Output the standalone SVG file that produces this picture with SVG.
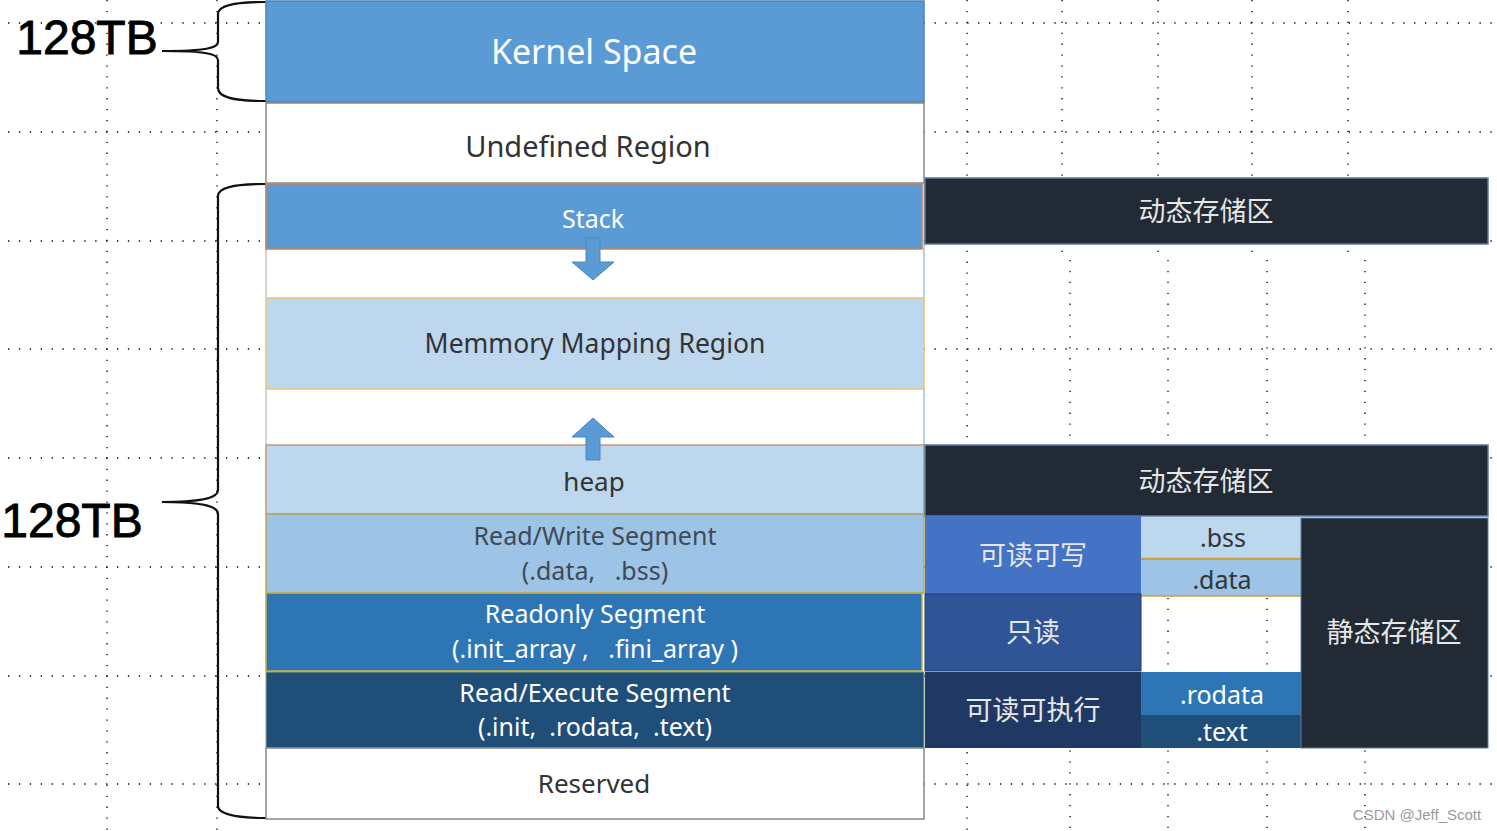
<svg xmlns="http://www.w3.org/2000/svg" width="1497" height="831" viewBox="0 0 1497 831">
<style>
.t{font-family:"Noto Sans","Noto Sans CJK SC",sans-serif;text-anchor:middle}
.cj{font-family:"Noto Sans CJK SC","Noto Sans",sans-serif;text-anchor:middle;fill:#e6e6e6;font-size:27px}
.w{fill:#ffffff}
.d{fill:#333333}
.big{font-family:"Liberation Sans",sans-serif;font-size:48px;fill:#000;stroke:#000;stroke-width:0.9;text-anchor:middle}
.grid{stroke:#000;stroke-width:1.3;stroke-dasharray:1.3 9.6;fill:none}
.brace{fill:none;stroke:#111;stroke-width:2.2}
.dark{fill:#222a35;stroke:#5a7aa0;stroke-width:1.5}
</style>
<rect width="1497" height="831" fill="#ffffff"/>
<g id="grid">
<path class="grid" d="M8 23H1497M8 132H1497M8 241H1497M8 349H1497M8 458H1497M8 567H1497M8 676H1497M8 784H1497"/>
<path class="grid" d="M107 0V831M217 0V831M967 0V831M1062 0V260M1158 0V260M1252 0V260M1348 0V260M1070 260V831M1168 260V831M1267 260V831M1365 260V831"/>
</g>
<g id="braces">
<path class="brace" d="M266 2C232 2 218 6 218 14V42C218 48 206 51 162 51C206 51 218 54 218 60V88C218 97 232 101 266 101"/>
<path class="brace" d="M266 184C232 184 218 188 218 196V490C218 497 206 502 162 502C206 502 218 507 218 514V806C218 813 232 818 266 818"/>
</g>
<g id="label-top"><text class="big" x="87" y="54">128TB</text></g>
<g id="label-bottom"><text class="big" x="72" y="537">128TB</text></g>
<g id="kernel"><rect x="266" y="1" width="658" height="101" fill="#5b9bd5" stroke="#4f81bd" stroke-width="1.5"/><text class="t w" x="594" y="64" font-size="34">Kernel Space</text></g>
<g id="undefined"><rect x="266" y="103" width="658" height="80" fill="#fff" stroke="#888" stroke-width="1.5"/><text class="t d" x="588" y="157" font-size="29">Undefined Region</text></g>
<g id="column"><path d="M924 183V298M924 389V445" stroke="#9dc3e6" stroke-width="1.5" fill="none"/><path d="M266 183V298M266 389V445" stroke="#aaa" stroke-width="1" fill="none"/></g>
<g id="stack"><rect x="266" y="184" width="656" height="65" fill="#5b9bd5" stroke="#c0845a" stroke-width="1.5"/><text class="t w" x="593" y="228" font-size="25">Stack</text></g>
<g id="mmap"><rect x="266" y="298" width="658" height="91" fill="#bdd7ee" stroke="#e8c86a" stroke-width="1.5"/><text class="t d" x="595" y="353" font-size="26.5">Memmory Mapping Region</text></g>
<g id="heap"><rect x="266" y="445" width="658" height="69" fill="#bdd7ee" stroke="#c8957a" stroke-width="1.5"/><text class="t d" x="594" y="491" font-size="26">heap</text></g>
<g id="connectors">
<path d="M586 238H600V262H614L593 280L572 262H586Z" fill="#5b9bd5" stroke="#4a86c0" stroke-width="1"/>
<path d="M586 460H600V437H614L593 418L572 437H586Z" fill="#5b9bd5" stroke="#4a86c0" stroke-width="1"/>
</g>
<g id="rw"><rect x="266" y="514" width="658" height="79" fill="#9dc3e6" stroke="#b8a45a" stroke-width="1.5"/><text class="t" fill="#404a55" x="595" y="545" font-size="25">Read/Write Segment</text><text class="t" fill="#404a55" x="595" y="580" font-size="25" xml:space="preserve">(.data,   .bss)</text></g>
<g id="ro"><rect x="266" y="593" width="656" height="78" fill="#2e75b6" stroke="#c9b040" stroke-width="1.5"/><text class="t w" x="595" y="623" font-size="25">Readonly Segment</text><text class="t w" x="595" y="658" font-size="25" xml:space="preserve">(.init_array ,   .fini_array )</text></g>
<g id="rx"><rect x="266" y="672" width="658" height="76" fill="#1f4e79" stroke="#8aa878" stroke-width="1"/><text class="t w" x="595" y="702" font-size="25">Read/Execute Segment</text><text class="t w" x="595" y="736" font-size="25" xml:space="preserve">(.init,  .rodata,  .text)</text></g>
<g id="reserved"><rect x="266" y="748" width="658" height="71" fill="#fff" stroke="#888" stroke-width="1.5"/><text class="t d" x="594" y="793" font-size="26">Reserved</text></g>
<g id="dyn1"><rect class="dark" x="925" y="178" width="563" height="66"/><text class="cj" x="1206" y="221">动态存储区</text></g>
<g id="dyn2"><rect class="dark" x="925" y="445" width="563" height="71"/><text class="cj" x="1206" y="491">动态存储区</text></g>
<g id="rw-cn"><rect x="925" y="516" width="216" height="78" fill="#4472c4"/><text class="cj" x="1033" y="565">可读可写</text></g>
<g id="bss"><rect x="1141" y="517" width="160" height="42" fill="#bdd7ee"/><path d="M1141 559H1301" stroke="#c9a23a" stroke-width="2.5"/><text class="t d" x="1223" y="547" font-size="25">.bss</text></g>
<g id="data"><rect x="1141" y="560" width="160" height="36" fill="#9dc3e6"/><path d="M1141 596H1301" stroke="#c9a23a" stroke-width="1.5"/><text class="t d" x="1222" y="589" font-size="25">.data</text></g>
<g id="ro-cn"><rect x="925" y="594" width="216" height="77" fill="#2f5597" stroke="#1f3c6e" stroke-width="1"/><text class="cj" x="1033" y="642">只读</text></g>
<g id="rx-cn"><rect x="925" y="672" width="216" height="76" fill="#203864"/><text class="cj" x="1033" y="720">可读可执行</text></g>
<g id="rodata"><rect x="1141" y="672" width="160" height="43" fill="#2e75b6"/><text class="t w" x="1222" y="704" font-size="25">.rodata</text></g>
<g id="text"><rect x="1141" y="715" width="160" height="33" fill="#1f4e79"/><text class="t w" x="1222" y="741" font-size="25">.text</text></g>
<g id="static"><rect x="1301" y="518" width="187" height="230" fill="#222a35" stroke="#5a7aa0" stroke-width="1"/><text class="cj" x="1394" y="642">静态存储区</text></g>
<g id="watermark"><text x="1417" y="820" font-family="Liberation Sans,sans-serif" font-size="15" fill="#9a9a9a" text-anchor="middle">CSDN @Jeff_Scott</text></g>
</svg>
